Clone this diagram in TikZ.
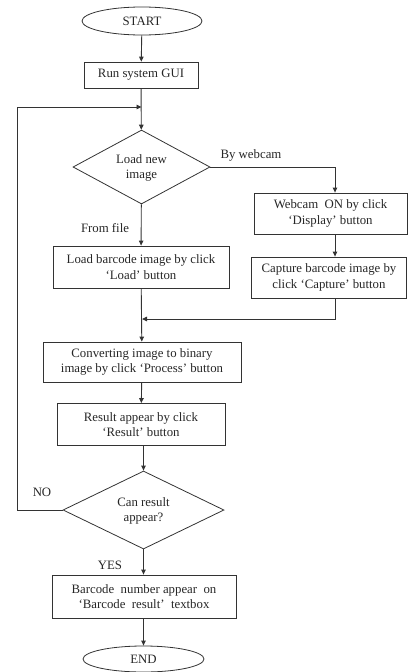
\documentclass[tikz,border=0pt]{standalone}
\usepackage{fontspec}
\setmainfont{Liberation Serif}
\usetikzlibrary{shapes.geometric,arrows.meta}
\begin{document}
\begin{tikzpicture}[x=1pt,y=-1pt,
  every node/.style={font=\fontsize{12.8}{15.5}\selectfont, text=black!85},
  box/.style={draw=black!80, line width=0.8pt, inner sep=0pt, align=center},
  term/.style={draw=black!80, line width=0.8pt, ellipse, inner sep=0pt},
  dec/.style={draw=black!80, line width=0.8pt, diamond, inner sep=0pt, align=center},
  conn/.style={draw=black!80, line width=0.9pt},
  arr/.style={conn, -{Triangle[length=5pt,width=4.5pt]}},
  lbl/.style={inner sep=0pt}]
\useasboundingbox (0,0) rectangle (407,672);
\node[term, minimum width=120pt, minimum height=28pt] (start) at (142,21) {START};
\node[box, minimum width=114pt, minimum height=26pt] (gui) at (141,75) {Run system GUI};
\node[dec, minimum width=137pt, minimum height=74pt] (load) at (141.5,167) {};
\node[lbl, align=center] at (141.5,168) {Load new\\image};
\node[box, minimum width=153pt, minimum height=41pt] (web) at (330.5,213.5) {Webcam\ \ ON by click\\`Display' button};
\node[box, minimum width=155pt, minimum height=41pt] (cap) at (329,277.5) {Capture barcode\ image by\\click `Capture'\ button};
\node[box, minimum width=176pt, minimum height=42pt] (lbf) at (141,267) {Load barcode image by click\\`Load'\ button};
\node[box, minimum width=198pt, minimum height=40pt] (conv) at (142,362) {Converting image to binary\\image by click `Process'\ button};
\node[box, minimum width=168pt, minimum height=42pt] (res) at (141,424.5) {Result appear by click\\`Result'\ button};
\node[dec, minimum width=161pt, minimum height=78pt] (can) at (143.5,510) {};
\node[lbl, align=center] at (143.5,511) {Can result\\appear?};
\node[box, minimum width=184pt, minimum height=43pt] (bar) at (144,596.5) {Barcode\ \ number appear\ \ on\\`Barcode\ \ result'\ \ textbox};
\node[term, minimum width=121pt, minimum height=26pt] (end) at (143.5,659) {END};
\node[lbl] at (251,155) {By webcam};
\node[lbl] at (105,228) {From file};
\node[lbl] at (42,492) {NO};
\node[lbl] at (110,565) {YES};
\coordinate (j1) at (142,319);
\coordinate (m1) at (141.5,107);
\coordinate (lx) at (17,510);
\coordinate (ly) at (17,107);
\draw[arr] (start) -- (gui);
\draw[arr] (gui) -- (load);
\draw[arr] (load.east) -| (web.north -| 335,0);
\draw[arr] (web.south -| 335,0) -- (cap.north -| 335,0);
\draw[arr] (load) -- (lbf);
\draw[arr] (cap.south -| 335,0) |- (j1);
\draw[arr] (lbf) -- (conv);
\draw[arr] (conv) -- (res);
\draw[arr] (res.south -| can) -- (can);
\draw[arr] (can.west) -- (lx) -- (ly) -- (m1);
\draw[arr] (can) -- (can|-bar.north);
\draw[arr] (can|-bar.south) -- (end);
\end{tikzpicture}
\end{document}
